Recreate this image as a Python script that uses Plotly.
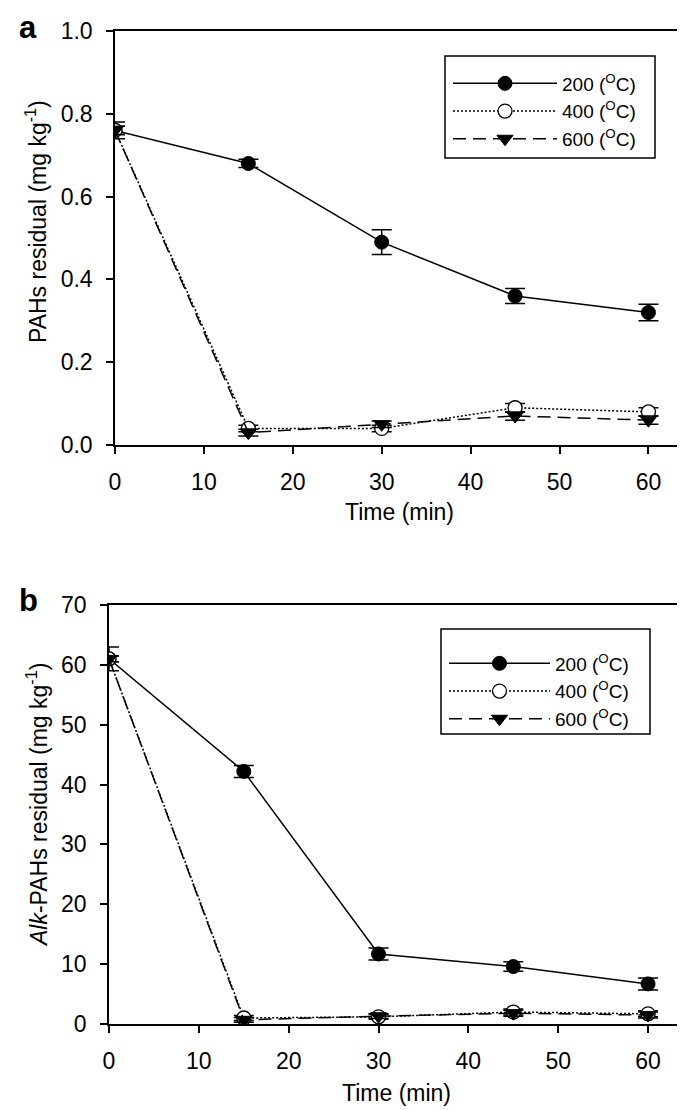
import plotly.graph_objects as go

# Data
time_min = [0, 15, 30, 45, 60]

# panel a: PAHs residual (mg kg-1)
pahs_200 = [0.76, 0.68, 0.49, 0.36, 0.32]
pahs_200_err = [0.02, 0.01, 0.03, 0.018, 0.02]
pahs_400 = [0.76, 0.04, 0.04, 0.09, 0.08]
pahs_400_err = [0.01, 0.008, 0.008, 0.01, 0.01]
pahs_600 = [0.76, 0.03, 0.05, 0.07, 0.06]
pahs_600_err = [0.01, 0.008, 0.008, 0.01, 0.01]

# panel b: Alk-PAHs residual (mg kg-1)
alk_200 = [61.0, 42.2, 11.7, 9.6, 6.7]
alk_200_err = [2.0, 1.0, 1.0, 0.8, 1.0]
alk_400 = [61.0, 1.0, 1.2, 2.0, 1.7]
alk_400_err = [0.5, 0.4, 0.4, 0.5, 0.5]
alk_600 = [61.0, 0.7, 1.3, 1.8, 1.5]
alk_600_err = [0.5, 0.4, 0.4, 0.5, 0.5]

labels = ["200 (<sup>O</sup>C)", "400 (<sup>O</sup>C)", "600 (<sup>O</sup>C)"]
x_ticks = [0, 10, 20, 30, 40, 50, 60]
ya_ticks = [0, 0.2, 0.4, 0.6, 0.8, 1.0]
yb_ticks = [0, 10, 20, 30, 40, 50, 60, 70]

W, H = 685, 1110
FONT = "Liberation Sans, Arial, sans-serif"

styles = [
    dict(line=dict(color="black", width=1.5, dash="solid"),
         marker=dict(symbol="circle", size=14, color="black", line=dict(color="black", width=1))),
    dict(line=dict(color="black", width=1.5, dash="2px,2px"),
         marker=dict(symbol="circle", size=14, color="white", line=dict(color="black", width=1.3))),
    dict(line=dict(color="black", width=1.5, dash="13px,7px"),
         marker=dict(symbol="triangle-down", size=14, color="black", line=dict(color="black", width=1))),
]


def px_x(p):
    return p / W


def px_y(p):
    return 1 - p / H


fig = go.Figure()

panel_a = [(pahs_200, pahs_200_err), (pahs_400, pahs_400_err), (pahs_600, pahs_600_err)]
panel_b = [(alk_200, alk_200_err), (alk_400, alk_400_err), (alk_600, alk_600_err)]

for i, (vals, err) in enumerate(panel_a):
    fig.add_trace(go.Scatter(
        x=time_min, y=vals, mode="lines+markers", name=labels[i],
        error_y=dict(type="data", array=err, color="black", thickness=1.5, width=10),
        xaxis="x", yaxis="y", legend="legend", **styles[i]))

for i, (vals, err) in enumerate(panel_b):
    fig.add_trace(go.Scatter(
        x=time_min, y=vals, mode="lines+markers", name=labels[i],
        error_y=dict(type="data", array=err, color="black", thickness=1.5, width=10),
        xaxis="x2", yaxis="y2", legend="legend2", **styles[i]))

axis_common = dict(
    showline=True, linecolor="black", linewidth=1.5, mirror=True,
    ticks="outside", ticklen=7, tickwidth=1.5, tickcolor="black",
    showgrid=False, zeroline=False, automargin=False,
    tickfont=dict(family=FONT, size=23, color="black"),
    ticklabelstandoff=9,
)

legend_common = dict(xanchor="left", yanchor="top", bgcolor="rgba(0,0,0,0)",
                     borderwidth=0, font=dict(family=FONT, size=19), tracegroupgap=0)

title_font = dict(family=FONT, size=23, color="black")

fig.update_layout(
    width=W, height=H, autosize=False,
    margin=dict(l=0, r=0, t=0, b=0),
    paper_bgcolor="white", plot_bgcolor="white",
    font=dict(family=FONT, color="black"),
    xaxis=dict(axis_common, domain=[px_x(107), px_x(676)], range=[0, 64],
               tickvals=x_ticks, anchor="y"),
    yaxis=dict(axis_common, domain=[px_y(437), px_y(23)], range=[0, 1.0],
               tickvals=ya_ticks, tickformat=".1f", anchor="x"),
    xaxis2=dict(axis_common, domain=[px_x(101), px_x(676)], range=[0, 64],
                tickvals=x_ticks, anchor="y2"),
    yaxis2=dict(axis_common, domain=[px_y(1016), px_y(597)], range=[0, 70],
                tickvals=yb_ticks, anchor="x2"),
    legend=dict(legend_common, x=px_x(440), y=px_y(56.5), itemwidth=104),
    legend2=dict(legend_common, x=px_x(436), y=px_y(636.5), itemwidth=101),
    shapes=[
        dict(type="rect", xref="paper", yref="paper", layer="below",
             x0=px_x(437), x1=px_x(647), y0=px_y(150), y1=px_y(48),
             line=dict(color="black", width=1.5), fillcolor="white"),
        dict(type="rect", xref="paper", yref="paper", layer="below",
             x0=px_x(433), x1=px_x(642), y0=px_y(726), y1=px_y(621),
             line=dict(color="black", width=1.5), fillcolor="white"),
    ],
    annotations=[
        dict(text="<b>a</b>", x=px_x(9), y=px_y(19), xref="paper", yref="paper",
             xanchor="left", yanchor="middle", showarrow=False, font=dict(family=FONT, size=31)),
        dict(text="<b>b</b>", x=px_x(9), y=px_y(592), xref="paper", yref="paper",
             xanchor="left", yanchor="middle", showarrow=False, font=dict(family=FONT, size=31)),
        dict(text="Time (min)", x=px_x(391), y=px_y(504), xref="paper", yref="paper",
             xanchor="center", yanchor="middle", showarrow=False, font=title_font),
        dict(text="Time (min)", x=px_x(388), y=px_y(1085), xref="paper", yref="paper",
             xanchor="center", yanchor="middle", showarrow=False, font=title_font),
        dict(text="PAHs residual (mg kg<sup>-1</sup>)", x=px_x(28), y=px_y(214),
             xref="paper", yref="paper", xanchor="center", yanchor="middle",
             textangle=-90, showarrow=False, font=title_font),
        dict(text="<i>Alk</i>-PAHs residual (mg kg<sup>-1</sup>)", x=px_x(29), y=px_y(797),
             xref="paper", yref="paper", xanchor="center", yanchor="middle",
             textangle=-90, showarrow=False, font=title_font),
    ],
)

fig.write_html("out.html")
